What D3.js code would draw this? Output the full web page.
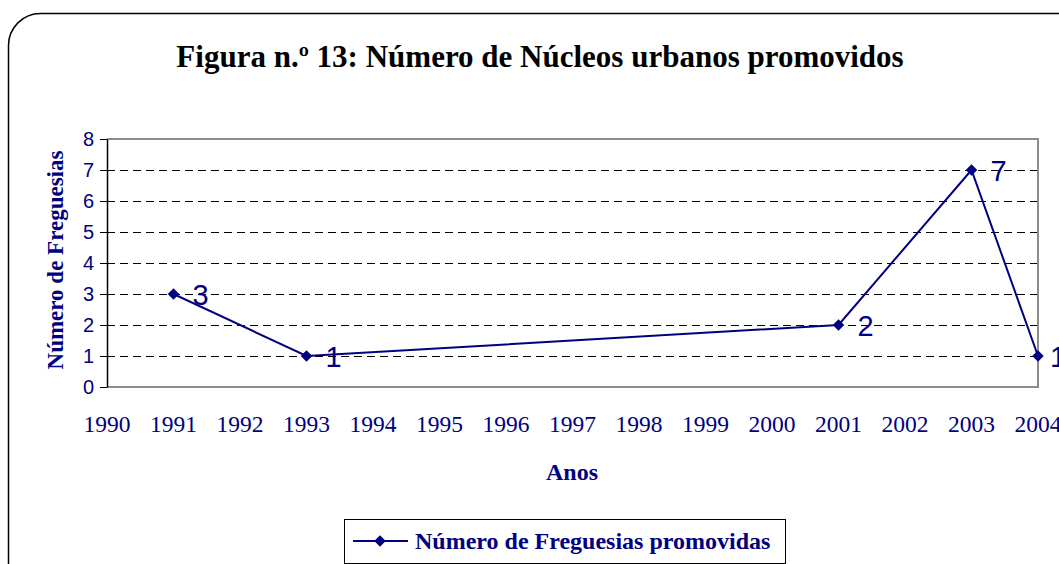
<!DOCTYPE html>
<html>
<head>
<meta charset="utf-8">
<script src="https://cdn.jsdelivr.net/npm/d3@7"></script>
<style>
  body { margin: 0; background: #fff; overflow: hidden; }
  svg { display: block; }
</style>
</head>
<body>
<div id="chart"></div>
<script>
// data
const years = [1991, 1993, 2001, 2003, 2004];
const values = [3, 1, 2, 7, 1];
const yearLabels = d3.range(1990, 2005);
const yTicks = [0, 1, 2, 3, 4, 5, 6, 7, 8];

const titleText = 'Figura n.º 13: Número de Núcleos urbanos promovidos';
const seriesName = 'Número de Freguesias promovidas';

const width = 1059, height = 564;
const navy = '#000080';
const serif = '"Liberation Serif", "Times New Roman", serif';
const sans = '"Liberation Sans", Arial, sans-serif';
// plot area edges in page pixels
const plot = {left: 107, right: 1038, top: 139, bottom: 387};

const svg = d3.select('#chart').append('svg')
  .attr('width', width)
  .attr('height', height);

// outer rounded frame (runs off the right and bottom edges)
svg.append('rect')
  .attr('x', 8.5).attr('y', 13.5)
  .attr('width', 1100).attr('height', 600)
  .attr('rx', 32).attr('ry', 32)
  .attr('fill', 'white')
  .attr('stroke', 'black')
  .attr('stroke-width', 1.5);

// title
svg.append('text')
  .attr('x', 540).attr('y', 67)
  .attr('text-anchor', 'middle')
  .style('font-family', serif)
  .style('font-weight', 'bold')
  .style('font-size', '31px')
  .attr('fill', 'black')
  .text(titleText);

let x = d3.scaleLinear().domain([1990, 2004]).range([plot.left, plot.right]);
let y = d3.scaleLinear().domain([0, 8]).range([plot.bottom, plot.top]);

// gridlines
svg.append('g')
  .selectAll('line')
  .data(yTicks.filter(d => d > 0 && d < 8))
  .enter().append('line')
  .attr('x1', plot.left).attr('x2', plot.right)
  .attr('y1', d => y(d) + 0.5).attr('y2', d => y(d) + 0.5)
  .attr('stroke', 'black')
  .attr('stroke-width', 1)
  .attr('stroke-dasharray', '8,5');

// plot area frame: grey top, right, bottom
svg.append('path')
  .attr('d', `M${plot.left},${plot.top}H${plot.right}V${plot.bottom}H${plot.left}`)
  .attr('fill', 'none')
  .attr('stroke', '#8c8c8c')
  .attr('stroke-width', 2);

// y axis
let yAxis = svg.append('g')
  .attr('transform', `translate(${plot.left},0)`)
  .call(d3.axisLeft(y).tickValues(yTicks).tickSize(7).tickSizeOuter(0).tickPadding(6));
yAxis.select('.domain').attr('stroke', 'black').attr('stroke-width', 1.5);
yAxis.selectAll('.tick line').attr('stroke', 'black');
yAxis.selectAll('.tick text')
  .attr('fill', navy)
  .style('font-family', sans)
  .style('font-size', '20px');

// x labels (no axis line, just category labels)
svg.append('g')
  .selectAll('text')
  .data(yearLabels)
  .enter().append('text')
  .attr('x', d => x(d))
  .attr('y', 432)
  .attr('text-anchor', 'middle')
  .attr('fill', navy)
  .style('font-family', serif)
  .style('font-size', '23.5px')
  .text(d => d);

// axis titles
svg.append('text')
  .attr('transform', `translate(63,260) rotate(-90)`)
  .attr('text-anchor', 'middle')
  .attr('fill', navy)
  .style('font-family', serif)
  .style('font-weight', 'bold')
  .style('font-size', '23px')
  .text('Número de Freguesias');

svg.append('text')
  .attr('x', 572).attr('y', 480)
  .attr('text-anchor', 'middle')
  .attr('fill', navy)
  .style('font-family', serif)
  .style('font-weight', 'bold')
  .style('font-size', '24px')
  .text('Anos');

// series
const points = years.map((yr, i) => ({year: yr, value: values[i]}));

let line = d3.line()
  .x(d => x(d.year))
  .y(d => y(d.value));

svg.append('path')
  .datum(points)
  .attr('d', line)
  .attr('fill', 'none')
  .attr('stroke', navy)
  .attr('stroke-width', 2);

let diamond = d3.symbol().type(d3.symbolDiamond2).size(85);

svg.append('g')
  .selectAll('path')
  .data(points)
  .enter().append('path')
  .attr('d', diamond)
  .attr('transform', d => `translate(${x(d.year)},${y(d.value)})`)
  .attr('fill', navy);

// data labels (last one is pushed in a bit, like in the original)
svg.append('g')
  .selectAll('text')
  .data(points)
  .enter().append('text')
  .attr('x', d => Math.min(x(d.year) + 19, width - 9))
  .attr('y', d => y(d.value) + 10.5)
  .attr('fill', navy)
  .style('font-family', sans)
  .style('font-size', '29px')
  .text(d => d.value);

// legend
let legend = svg.append('g').attr('transform', 'translate(344,519)');
legend.append('rect')
  .attr('x', 0.5).attr('y', 0.5)
  .attr('width', 441).attr('height', 44)
  .attr('fill', 'white')
  .attr('stroke', 'black')
  .attr('stroke-width', 1);
legend.append('line')
  .attr('x1', 9).attr('x2', 64)
  .attr('y1', 22).attr('y2', 22)
  .attr('stroke', navy)
  .attr('stroke-width', 2);
legend.append('path')
  .attr('d', diamond)
  .attr('transform', 'translate(36,22)')
  .attr('fill', navy);
legend.append('text')
  .attr('x', 71).attr('y', 30)
  .attr('fill', navy)
  .style('font-family', serif)
  .style('font-weight', 'bold')
  .style('font-size', '24px')
  .text(seriesName);
</script>
</body>
</html>
